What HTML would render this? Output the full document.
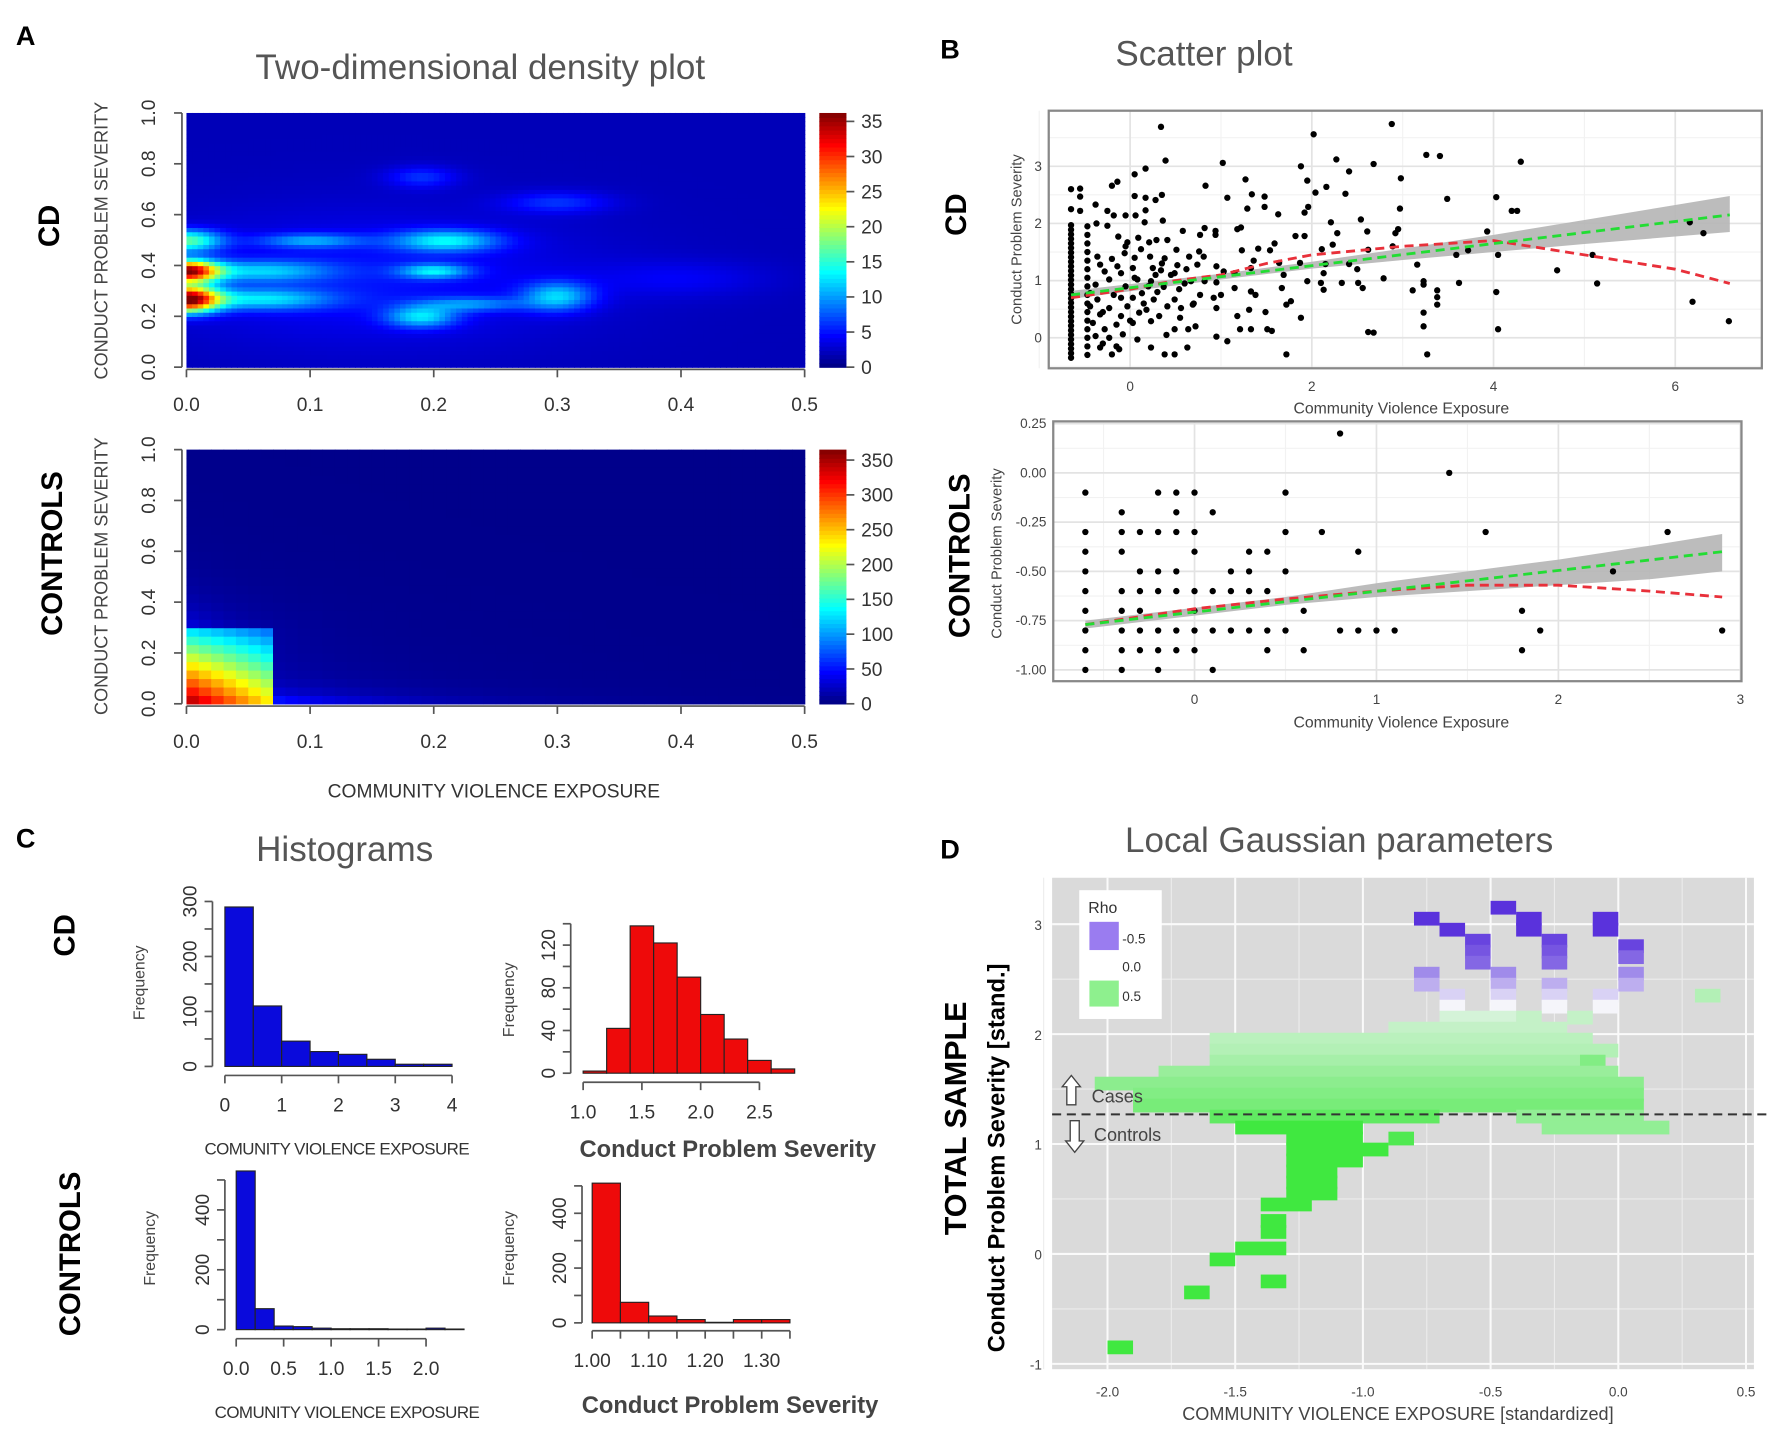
<!DOCTYPE html>
<html><head><meta charset="utf-8"><title>Figure</title>
<style>
html,body{margin:0;padding:0;background:#fff;}
svg{display:block;font-family:"Liberation Sans",sans-serif;}
.lbl{font-weight:bold;fill:#000;}
.ttl{fill:#555;font-size:31px;}
.tk{fill:#333;font-size:17px;}
.tks{fill:#444;font-size:12px;}
</style></head>
<body>
<svg id="fig" xmlns="http://www.w3.org/2000/svg" width="1772" height="1446" viewBox="0 0 1568 1280" preserveAspectRatio="none">
<rect x="0" y="0" width="1568" height="1280" fill="#fff"/>
<!-- Panel A -->
<text class="lbl" x="14" y="40" font-size="24">A</text>
<text class="ttl" x="425" y="70" text-anchor="middle">Two-dimensional  density  plot</text>
<text class="lbl" x="0" y="0" font-size="26" transform="translate(52,200) rotate(-90)" text-anchor="middle" fill="#222">CD</text>
<text class="lbl" x="0" y="0" font-size="26" transform="translate(55,490) rotate(-90)" text-anchor="middle" fill="#222">CONTROLS</text>
<text x="0" y="0" font-size="16" fill="#444" transform="translate(95,213) rotate(-90)" text-anchor="middle">CONDUCT PROBLEM SEVERITY</text>
<text x="0" y="0" font-size="16" fill="#444" transform="translate(95,510) rotate(-90)" text-anchor="middle">CONDUCT PROBLEM SEVERITY</text>
<text x="437" y="706" font-size="17" fill="#333" text-anchor="middle">COMMUNITY VIOLENCE EXPOSURE</text>
<g id="panelA"></g>
<!-- Panel B -->
<text class="lbl" x="832" y="52" font-size="24">B</text>
<text class="ttl" x="987" y="58">Scatter plot</text>
<text class="lbl" x="0" y="0" font-size="26" transform="translate(855,190) rotate(-90)" text-anchor="middle" fill="#222">CD</text>
<text class="lbl" x="0" y="0" font-size="26" transform="translate(858,492) rotate(-90)" text-anchor="middle" fill="#222">CONTROLS</text>
<text x="0" y="0" font-size="13" fill="#444" transform="translate(904,212) rotate(-90)" text-anchor="middle">Conduct Problem Severity</text>
<text x="1240" y="366" font-size="14" fill="#444" text-anchor="middle">Community Violence Exposure</text>
<text x="0" y="0" font-size="13" fill="#444" transform="translate(886,490) rotate(-90)" text-anchor="middle">Conduct Problem Severity</text>
<text x="1240" y="644" font-size="14" fill="#444" text-anchor="middle">Community Violence Exposure</text>
<g id="panelB"></g>
<!-- Panel C -->
<text class="lbl" x="14" y="750" font-size="24">C</text>
<text class="ttl" x="305" y="762" text-anchor="middle">Histograms</text>
<text class="lbl" x="0" y="0" font-size="26" transform="translate(66,828) rotate(-90)" text-anchor="middle" fill="#222">CD</text>
<text class="lbl" x="0" y="0" font-size="26" transform="translate(71,1110) rotate(-90)" text-anchor="middle" fill="#222">CONTROLS</text>
<text x="298" y="1022" font-size="15" fill="#333" text-anchor="middle" letter-spacing="-0.5">COMUNITY VIOLENCE EXPOSURE</text>
<text x="644" y="1024" font-size="21" font-weight="bold" fill="#444" text-anchor="middle">Conduct Problem Severity</text>
<text x="307" y="1255" font-size="15" fill="#333" text-anchor="middle" letter-spacing="-0.5">COMUNITY VIOLENCE EXPOSURE</text>
<text x="646" y="1251" font-size="21" font-weight="bold" fill="#444" text-anchor="middle">Conduct Problem Severity</text>
<g id="panelC"></g>
<!-- Panel D -->
<text class="lbl" x="832" y="760" font-size="24">D</text>
<text class="ttl" x="1185" y="754" text-anchor="middle">Local Gaussian parameters</text>
<text class="lbl" x="0" y="0" font-size="27" transform="translate(855,990) rotate(-90)" text-anchor="middle" fill="#333">TOTAL  SAMPLE</text>
<text class="lbl" x="0" y="0" font-size="21" transform="translate(889,1025) rotate(-90)" text-anchor="middle" fill="#444">Conduct  Problem  Severity [stand.]</text>
<text x="1237" y="1257" font-size="16" fill="#444" text-anchor="middle">COMMUNITY VIOLENCE EXPOSURE [standardized]</text>
<g id="panelD"></g>

<script>
// ================= DATA =================
const cdBlobX = [0.0, 0.0, 0.0, 0.06, 0.06, 0.10, 0.19, 0.20, 0.21, 0.23, 0.30, 0.19, 0.30, 0.15, 0.40];
const cdBlobY = [0.27, 0.38, 0.50, 0.27, 0.38, 0.50, 0.20, 0.38, 0.50, 0.25, 0.28, 0.75, 0.65, 0.35, 0.35];
const cdBlobSX = [0.018, 0.018, 0.02, 0.04, 0.04, 0.03, 0.02, 0.02, 0.03, 0.03, 0.02, 0.02, 0.03, 0.12, 0.05];
const cdBlobSY = [0.035, 0.03, 0.03, 0.03, 0.03, 0.02, 0.03, 0.02, 0.03, 0.02, 0.04, 0.03, 0.03, 0.18, 0.05];
const cdBlobAmp = [33, 31, 14, 9, 8, 7, 9, 9, 10, 6, 9, 4, 4, 3, 2];
const cdBase = [2];
const cdTicks = [0, 5, 10, 15, 20, 25, 30, 35];
const cdMax = [36.2];
const ctrlPeak = [360];
const ctrlTicks = [0, 50, 100, 150, 200, 250, 300, 350];
const ctrlMax = [365];
const aXTicks = [0.0, 0.1, 0.2, 0.3, 0.4, 0.5];
const aYTicks = [0.0, 0.2, 0.4, 0.6, 0.8, 1.0];

const cdScatX = [0.34,2.88,2.02,0.39,1.02,2.27,2.68,3.26,3.41,4.3,1.88,2.41,0.17,0.05,2.98,1.27,1.95,-0.14,-0.2,0.83,2.16,2.04,2.37,1.34,1.48,1.07,0.05,0.17,0.35,3.49,4.03,1.48,1.29,1.96,-0.38,0.17,0.28,2.97,4.2,4.26,-0.55,-0.25,1.92,1.63,-0.18,-0.05,0.06,0.16,0.36,1.22,1.18,2.54,2.21,2.95,3.93,-0.25,-0.37,0.58,0.82,0.94,0.77,0.94,1.82,1.92,2.28,2.61,2.92,0.09,-0.13,0.29,0.41,-0.03,0.21,1.59,1.41,1.54,1.23,2.11,2.23,2.62,2.89,4.05,3.72,3.59,5.09,0.51,0.76,-0.06,0.05,0.22,0.38,0.65,0.81,-0.2,-0.36,1.36,1.64,1.87,2.15,2.41,3.16,-0.33,-0.14,0.03,0.25,0.52,0.74,0.95,1.33,2.5,4.7,-0.28,-0.1,0.34,0.49,1.03,1.15,1.69,2.79,2.13,-0.23,0.08,0.23,0.67,0.82,0.95,1.95,2.1,2.33,2.51,3.23,3.62,5.14,-0.38,-0.05,0.37,0.54,1.15,1.33,1.67,2.13,2.56,3.11,3.23,3.38,-0.44,-0.18,0.13,0.77,1.0,1.38,4.03,-0.36,0.03,0.26,0.49,0.92,3.38,1.77,6.19,-0.44,-0.23,-0.03,0.18,0.41,0.56,0.69,0.95,1.72,3.38,-0.33,-0.1,0.1,0.32,1.31,1.18,1.49,1.88,3.23,6.59,-0.41,-0.15,0.03,0.23,0.49,0.64,0.72,1.21,1.33,1.51,1.56,2.62,2.68,3.23,4.05,-0.38,-0.23,-0.08,0.08,0.95,1.07,0.23,0.38,0.49,0.63,-0.2,-0.33,-0.15,1.72,3.27,6.16,6.31,-0.55,-0.55,
-0.65,-0.65,-0.65,-0.65,-0.65,-0.65,-0.65,-0.65,-0.65,-0.65,-0.65,-0.65,-0.65,-0.65,-0.65,-0.65,-0.65,-0.65,-0.65,-0.65,-0.65,-0.65,-0.65,-0.65,-0.65,-0.65,-0.65,-0.65,-0.65,-0.65,-0.65,-0.65,
-0.47,-0.47,-0.47,-0.47,-0.47,-0.47,-0.47,-0.47,-0.47,-0.47,-0.47,-0.47,-0.47,-0.47,-0.47,-0.47,
-0.3,-0.12,0.0,0.15,0.3,0.45,-0.3,-0.1,0.05,0.2,0.35,-0.28,-0.05,0.12,0.28,0.6,0.7,0.55,0.62,0.4];
const cdScatY = [3.69,3.74,3.56,3.1,3.06,3.12,3.04,3.2,3.18,3.08,3.0,2.91,2.96,2.86,2.79,2.77,2.75,2.73,2.66,2.66,2.64,2.54,2.52,2.51,2.47,2.45,2.48,2.45,2.5,2.43,2.46,2.29,2.26,2.29,2.33,2.23,2.41,2.26,2.22,2.22,2.22,2.22,2.19,2.16,2.14,2.14,2.14,2.02,2.05,1.93,1.9,2.07,2.02,1.9,1.86,1.96,2.0,1.87,1.92,1.87,1.8,1.8,1.78,1.78,1.83,1.86,1.83,1.75,1.77,1.71,1.71,1.67,1.67,1.65,1.56,1.53,1.53,1.55,1.63,1.54,1.6,1.45,1.53,1.45,1.45,1.54,1.51,1.48,1.4,1.42,1.39,1.42,1.42,1.38,1.42,1.35,1.31,1.31,1.29,1.29,1.28,1.28,1.25,1.22,1.22,1.27,1.28,1.25,1.22,1.2,1.18,1.16,1.13,1.18,1.13,1.16,1.13,1.1,1.04,1.13,1.02,1.02,0.99,0.99,0.99,0.97,0.99,0.96,0.96,0.96,0.99,0.96,0.95,0.93,0.9,0.89,0.85,0.87,0.81,0.87,0.84,0.87,0.83,0.93,0.83,0.78,0.75,0.78,0.75,0.75,0.75,0.8,0.67,0.7,0.67,0.67,0.7,0.71,0.64,0.63,0.55,0.52,0.55,0.49,0.55,0.52,0.58,0.52,0.58,0.58,0.41,0.38,0.44,0.38,0.49,0.38,0.45,0.35,0.44,0.29,0.26,0.23,0.26,0.29,0.15,0.15,0.2,0.15,0.15,0.15,0.12,0.1,0.09,0.2,0.15,0.03,0.0,0.06,-0.03,0.02,-0.06,-0.17,-0.29,-0.29,-0.17,-0.29,-0.17,-0.15,-0.29,-0.29,2.02,1.83,2.47,2.61,
-0.35,-0.27,-0.19,-0.11,-0.03,0.05,0.13,0.21,0.29,0.37,0.45,0.53,0.61,0.69,0.77,0.85,0.93,1.01,1.09,1.17,1.25,1.33,1.41,1.49,1.57,1.65,1.73,1.81,1.89,1.97,2.25,2.6,
-0.3,-0.15,0.0,0.15,0.3,0.45,0.6,0.75,0.9,1.05,1.2,1.35,1.5,1.65,1.8,1.95,
-0.1,-0.2,0.3,0.6,0.8,1.1,0.45,0.7,1.05,0.9,1.3,0.15,1.6,1.55,1.1,0.95,0.6,0.35,1.2,0.05];
const cdFitX = [-0.65, 6.6];
const cdFitY = [0.75, 2.15];
const cdBandX = [-0.65, 1, 2, 3, 4, 5, 6.6];
const cdBandLo = [0.68, 1.02, 1.21, 1.36, 1.5, 1.64, 1.85];
const cdBandHi = [0.82, 1.12, 1.33, 1.56, 1.8, 2.06, 2.48];
const cdLoessX = [-0.65, 0, 0.5, 1, 1.5, 2, 3, 4, 5, 6, 6.6];
const cdLoessY = [0.7, 0.85, 1.0, 1.1, 1.3, 1.45, 1.6, 1.7, 1.45, 1.2, 0.95];
const cdXTicks = [0, 2, 4, 6];
const cdYTicks = [0, 1, 2, 3];
const ctScatX = [-0.6,-0.6,-0.6,-0.6,-0.6,-0.6,-0.6,-0.6,-0.6,
 -0.4,-0.4,-0.4,-0.4,-0.4,-0.4,-0.4,-0.4,
 -0.3,-0.3,-0.3,-0.3,-0.3,-0.3,
 -0.2,-0.2,-0.2,-0.2,-0.2,-0.2,-0.2,
 -0.1,-0.1,-0.1,-0.1,-0.1,-0.1,-0.1,
 0,0,0,0,0,0,0,
 0.1,0.1,0.1,0.1, 0.2,0.2,0.2, 0.3,0.3,0.3,0.3, 0.4,0.4,0.4,0.4,
 0.5,0.5,0.5,0.5, 0.6,0.6, 0.7, 0.8,0.8, 0.9,0.9, 1.0, 1.1, 1.4, 1.6, 1.8,1.8, 1.9, 2.3, 2.6, 2.9];
const ctScatY = [-0.1,-0.3,-0.4,-0.5,-0.6,-0.7,-0.8,-0.9,-1.0,
 -0.2,-0.3,-0.4,-0.6,-0.7,-0.8,-0.9,-1.0,
 -0.3,-0.5,-0.6,-0.7,-0.8,-0.9,
 -0.1,-0.3,-0.5,-0.6,-0.8,-0.9,-1.0,
 -0.1,-0.2,-0.3,-0.5,-0.6,-0.8,-0.9,
 -0.1,-0.3,-0.4,-0.6,-0.7,-0.8,-0.9,
 -0.2,-0.6,-0.8,-1.0, -0.5,-0.6,-0.8, -0.4,-0.5,-0.6,-0.8, -0.4,-0.6,-0.8,-0.9,
 -0.1,-0.3,-0.5,-0.8, -0.7,-0.9, -0.3, 0.2,-0.8, -0.4,-0.8, -0.8, -0.8, 0.0, -0.3, -0.7,-0.9, -0.8, -0.5, -0.3, -0.8];
const ctFitX = [-0.6, 2.9];
const ctFitY = [-0.77, -0.40];
const ctBandX = [-0.6, 0.5, 1, 1.5, 2, 2.5, 2.9];
const ctBandLo = [-0.79, -0.67, -0.63, -0.6, -0.57, -0.54, -0.5];
const ctBandHi = [-0.75, -0.63, -0.56, -0.5, -0.44, -0.37, -0.31];
const ctLoessX = [-0.6, 0, 0.5, 1, 1.5, 2, 2.5, 2.9];
const ctLoessY = [-0.77, -0.69, -0.64, -0.6, -0.57, -0.57, -0.6, -0.63];
const ctXTicks = [0, 1, 2, 3];
const ctYTicks = [0.25, 0.0, -0.25, -0.5, -0.75, -1.0];
const ctYTickLabels = ["0.25", "0.00", "-0.25", "-0.50", "-0.75", "-1.00"];

const h1Start = [0, 0.5, 1, 1.5, 2, 2.5, 3, 3.5];
const h1Count = [290, 110, 46, 27, 22, 13, 4, 4];
const h2Start = [1.0, 1.2, 1.4, 1.6, 1.8, 2.0, 2.2, 2.4, 2.6];
const h2Count = [2, 42, 138, 122, 90, 55, 32, 12, 4];
const h3Start = [0, 0.2, 0.4, 0.6, 0.8, 1.0, 1.2, 1.4, 1.6, 1.8, 2.0, 2.2];
const h3Count = [530, 70, 12, 10, 5, 3, 3, 3, 2, 2, 5, 2];
const h4Start = [1.0, 1.05, 1.1, 1.15, 1.2, 1.25, 1.3];
const h4Count = [510, 75, 25, 12, 2, 12, 12];

const tX0 = [-0.8,-0.7,-0.6,-0.6,-0.6,-0.5,-0.4,-0.4,-0.3,-0.3,-0.3,-0.1,-0.1,0,0,-0.8,-0.8,-0.5,-0.5,0,0,-0.3,-0.7,-0.5,-0.3,-0.1,-0.7,-0.5,-0.3,-0.1,-0.7,-0.4,-0.2,0.3,-0.9,-1.6,-1.6,-1.6,-0.15,-1.8,-2.05,-1.9,-1.9,-1.6,-0.4,-1.5,-0.3,-1.3,-0.9,-1.3,-1.3,-1.3,-1.3,-1.3,-1.4,-1.4,-1.4,-1.5,-1.6,-1.4,-1.7,-2.0];
const tX1 = [-0.7,-0.6,-0.5,-0.5,-0.5,-0.4,-0.3,-0.3,-0.2,-0.2,-0.2,0,0,0.1,0.1,-0.7,-0.7,-0.4,-0.4,0.1,0.1,-0.2,-0.6,-0.4,-0.2,0,-0.6,-0.4,-0.2,0,-0.4,-0.3,-0.1,0.4,-0.2,-0.1,0,-0.1,-0.05,0,0.1,0.1,0.1,-0.7,0.1,-1.0,0.2,-1.0,-0.8,-0.9,-1.0,-1.1,-1.1,-1.1,-1.2,-1.3,-1.3,-1.3,-1.5,-1.3,-1.6,-1.9];
const tY = [3.05,2.95,2.85,2.75,2.65,3.15,3.05,2.95,2.85,2.75,2.65,3.05,2.95,2.8,2.7,2.55,2.45,2.55,2.45,2.55,2.45,2.45,2.35,2.35,2.35,2.35,2.25,2.25,2.25,2.25,2.15,2.15,2.15,2.35,2.05,1.95,1.85,1.75,1.75,1.65,1.55,1.45,1.35,1.25,1.25,1.15,1.15,1.05,1.05,0.95,0.85,0.75,0.65,0.55,0.45,0.3,0.2,0.05,-0.05,-0.25,-0.35,-0.85];
const tRho = [-0.6,-0.55,-0.5,-0.45,-0.4,-0.55,-0.6,-0.55,-0.5,-0.45,-0.4,-0.6,-0.55,-0.5,-0.4,-0.3,-0.2,-0.3,-0.2,-0.3,-0.2,-0.2,-0.1,-0.1,-0.1,-0.1,0,0,0,0,0.1,0.15,0.15,0.2,0.15,0.18,0.2,0.24,0.35,0.28,0.32,0.35,0.38,0.45,0.3,0.55,0.3,0.55,0.5,0.55,0.55,0.55,0.55,0.55,0.55,0.55,0.55,0.55,0.55,0.55,0.55,0.55];
const dXTicks = [-2.0, -1.5, -1.0, -0.5, 0.0, 0.5];
const dYTicks = [-1, 0, 1, 2, 3];
const dCutoff = [1.27];

// ================= HELPERS =================
const NS = "http://www.w3.org/2000/svg";
function mk(tag, attrs, parent) {
  const e = document.createElementNS(NS, tag);
  for (const k in attrs) e.setAttribute(k, attrs[k]);
  parent.appendChild(e);
  return e;
}
function jet(t) {
  t = Math.max(0, Math.min(1, t));
  const c = v => Math.round(255 * Math.max(0, Math.min(1, v)));
  return `rgb(${c(1.5 - Math.abs(4 * t - 3))},${c(1.5 - Math.abs(4 * t - 2))},${c(1.5 - Math.abs(4 * t - 1))})`;
}

// ================= PANEL A =================
const gA = document.getElementById('panelA');
function densityPanel(top, bottom, valueFn, vmax, ticks, nx, ny, name) {
  const L = 165, R = 712;
  const xs = v => L + v / 0.5 * (R - L);
  const ys = v => bottom - v * (bottom - top);
  const g = mk('g', {}, gA);
  
  
  const cw = (R - L) / nx, ch = (bottom - top) / ny;
  for (let i = 0; i < nx; i++) {
    for (let j = 0; j < ny; j++) {
      const xv = (i + 0.5) / nx * 0.5, yv = (j + 0.5) / ny;
      const r = mk('rect', { x: xs(i / nx * 0.5), y: ys((j + 1) / ny), width: cw + 0.6, height: ch + 0.6, fill: jet(valueFn(xv, yv) / vmax) }, g);
      
      
    }
  }
  const ax = mk('g', { stroke: '#555', 'stroke-width': 1.5 }, gA);
  
  
  mk('line', { x1: L, x2: R, y1: bottom + 2, y2: bottom + 2 }, ax);
  mk('line', { x1: L - 4, x2: L - 4, y1: top, y2: bottom }, ax);
  aXTicks.forEach(v => {
    mk('line', { x1: xs(v), x2: xs(v), y1: bottom + 2, y2: bottom + 9 }, ax);
    const t = mk('text', { x: xs(v), y: bottom + 39, 'text-anchor': 'middle', class: 'tk', stroke: 'none' }, gA);
    t.textContent = v.toFixed(1);
    
    
  });
  aYTicks.forEach(v => {
    mk('line', { x1: L - 4, x2: L - 11, y1: ys(v), y2: ys(v) }, ax);
    const t = mk('text', { x: 0, y: 0, transform: `translate(${137},${ys(v)}) rotate(-90)`, 'text-anchor': 'middle', class: 'tk' }, gA);
    t.textContent = v.toFixed(1);
    
    
  });
  const cb = mk('g', {}, gA);
  
  
  const steps = 60;
  for (let k = 0; k < steps; k++) {
    const y0 = bottom - (k + 1) / steps * (bottom - top);
    mk('rect', { x: 725, y: y0, width: 24, height: (bottom - top) / steps + 0.6, fill: jet((k + 0.5) / steps) }, cb);
  }
  ticks.forEach(v => {
    const y = bottom - v / vmax * (bottom - top);
    mk('line', { x1: 749, x2: 756, y1: y, y2: y, stroke: '#555', 'stroke-width': 1.5 }, cb);
    const t = mk('text', { x: 762, y: y + 6, class: 'tk' }, cb);
    t.textContent = v;
    
    
  });
}
function cdValue(x, y) {
  let v = cdBase[0];
  for (let k = 0; k < cdBlobX.length; k++) {
    const dx = (x - cdBlobX[k]) / cdBlobSX[k], dy = (y - cdBlobY[k]) / cdBlobSY[k];
    v += cdBlobAmp[k] * Math.exp(-0.5 * (dx * dx + dy * dy));
  }
  return v;
}
function ctrlValue(x, y) {
  if (x < 0.07 && y < 0.3) {
    return ctrlPeak[0] * (1 - x / 0.2) * (1 - y / 0.45);
  }
  return 4 + 55 * Math.exp(-Math.max(0, x - 0.07) / 0.1) * Math.exp(-y / 0.04)
           + 30 * Math.exp(-x / 0.04) * Math.exp(-Math.max(0, y - 0.3) / 0.1)
           + 10 * Math.exp(-x / 0.2) * Math.exp(-y / 0.3);
}
densityPanel(100, 325, cdValue, cdMax[0], cdTicks, 110, 60, 'cd');
densityPanel(398, 623, ctrlValue, ctrlMax[0], ctrlTicks, 50, 30, 'controls');

// ================= PANEL B =================
const gB = document.getElementById('panelB');
function scatterPanel(box, xs, ys, xTicks, xMinor, yTicks, yLabels, yMinor, px, py, fitX, fitY, bX, bLo, bHi, lX, lY, name, tickX, xlabY) {
  const g = mk('g', {}, gB);
  
  
  mk('rect', { x: box[0], y: box[1], width: box[2] - box[0], height: box[3] - box[1], fill: '#fff' }, g);
  xMinor.forEach(v => mk('line', { x1: xs(v), x2: xs(v), y1: box[1], y2: box[3], stroke: '#f2f2f2', 'stroke-width': 1 }, g));
  yMinor.forEach(v => mk('line', { x1: box[0], x2: box[2], y1: ys(v), y2: ys(v), stroke: '#f2f2f2', 'stroke-width': 1 }, g));
  xTicks.forEach(v => mk('line', { x1: xs(v), x2: xs(v), y1: box[1], y2: box[3], stroke: '#e3e3e3', 'stroke-width': 1.5 }, g));
  yTicks.forEach(v => mk('line', { x1: box[0], x2: box[2], y1: ys(v), y2: ys(v), stroke: '#e3e3e3', 'stroke-width': 1.5 }, g));
  let pts = [];
  bX.forEach((x, i) => pts.push(xs(x) + ',' + ys(bHi[i])));
  for (let i = bX.length - 1; i >= 0; i--) pts.push(xs(bX[i]) + ',' + ys(bLo[i]));
  const band = mk('polygon', { points: pts.join(' '), fill: '#b5b5b5', opacity: 0.9 }, g);
  
  
  for (let i = 0; i < px.length; i++) {
    const c = mk('circle', { cx: xs(px[i]), cy: ys(py[i]), r: 2.8, fill: '#000' }, g);
    
    
  }
  const lo = mk('polyline', { points: lX.map((x, i) => xs(x) + ',' + ys(lY[i])).join(' '), fill: 'none', stroke: '#e8303a', 'stroke-width': 2.5, 'stroke-dasharray': '8,5' }, g);
  
  
  const fit = mk('polyline', { points: fitX.map((x, i) => xs(x) + ',' + ys(fitY[i])).join(' '), fill: 'none', stroke: '#22dd33', 'stroke-width': 2.5, 'stroke-dasharray': '8,5' }, g);
  
  
  const bd = mk('rect', { x: box[0], y: box[1], width: box[2] - box[0], height: box[3] - box[1], fill: 'none', stroke: '#888', 'stroke-width': 2 }, g);
  
  
  xTicks.forEach(v => {
    const t = mk('text', { x: xs(v), y: xlabY, 'text-anchor': 'middle', class: 'tks' }, g);
    t.textContent = v;
    
    
  });
  yTicks.forEach((v, i) => {
    const t = mk('text', { x: tickX, y: ys(v) + 4, 'text-anchor': 'end', class: 'tks' }, g);
    t.textContent = yLabels[i];
    
    
  });
}
scatterPanel([928, 98, 1559, 326], v => 1000 + v * 80.4, v => 299 - v * 50.6,
  cdXTicks, [-1, 1, 3, 5], cdYTicks, cdYTicks.map(String), [-0.5, 0.5, 1.5, 2.5, 3.5],
  cdScatX, cdScatY, cdFitX, cdFitY, cdBandX, cdBandLo, cdBandHi, cdLoessX, cdLoessY, 'cd', 922, 346);
scatterPanel([932, 373, 1541, 603], v => 1057 + v * 161, v => 375 + (0.25 - v) * 174.4,
  ctXTicks, [-0.5, 0.5, 1.5, 2.5], ctYTicks, ctYTickLabels, [0.125, -0.125, -0.375, -0.625, -0.875],
  ctScatX, ctScatY, ctFitX, ctFitY, ctBandX, ctBandLo, ctBandHi, ctLoessX, ctLoessY, 'controls', 926, 623);

// ================= PANEL C =================
const gC = document.getElementById('panelC');
function histPanel(starts, counts, width, xs, ys, color, xTicks, xLabels, yTicks, yLabels, axisX, axisY, freqX, freqY, name) {
  const g = mk('g', {}, gC);
  
  
  starts.forEach((s, i) => {
    const b = mk('rect', { x: xs(s), y: ys(counts[i]), width: xs(s + width) - xs(s), height: ys(0) - ys(counts[i]), fill: color, stroke: '#222', 'stroke-width': 1 }, g);
    
    
  });
  const ax = mk('g', { stroke: '#555', 'stroke-width': 1.5 }, g);
  
  
  mk('line', { x1: xs(xTicks[0]), x2: xs(xTicks[xTicks.length - 1]), y1: axisY, y2: axisY }, ax);
  xTicks.forEach(v => mk('line', { x1: xs(v), x2: xs(v), y1: axisY, y2: axisY + 7 }, ax));
  mk('line', { x1: axisX, x2: axisX, y1: ys(0), y2: ys(yTicks[yTicks.length - 1]) }, ax);
  yTicks.forEach(v => mk('line', { x1: axisX, x2: axisX - 7, y1: ys(v), y2: ys(v) }, ax));
  xLabels.forEach(p => {
    const t = mk('text', { x: xs(p[0]), y: axisY + 32, 'text-anchor': 'middle', class: 'tk', 'font-size': 16 }, g);
    t.textContent = p[1];
    
    
  });
  yLabels.forEach(p => {
    const t = mk('text', { x: 0, y: 0, transform: `translate(${axisX - 14},${ys(p[0])}) rotate(-90)`, 'text-anchor': 'middle', class: 'tk', 'font-size': 15 }, g);
    t.textContent = p[1];
    
    
  });
  const f = mk('text', { x: 0, y: 0, transform: `translate(${freqX},${freqY}) rotate(-90)`, 'text-anchor': 'middle', fill: '#444', 'font-size': 14 }, g);
  f.textContent = 'Frequency';
  
  
}
histPanel(h1Start, h1Count, 0.5, v => 199 + v * 50.25, c => 944 - c * 0.4867, '#0a0adc',
  [0, 1, 2, 3, 4], [[0, '0'], [1, '1'], [2, '2'], [3, '3'], [4, '4']],
  [0, 50, 100, 150, 200, 250, 300], [[0, '0'], [100, '100'], [200, '200'], [300, '300']], 188, 952, 128, 870, 'cd-exposure');
histPanel(h2Start, h2Count, 0.2, v => 516 + (v - 1) * 104, c => 950 - c * 0.945, '#ee0a0a',
  [1.0, 1.5, 2.0, 2.5], [[1.0, '1.0'], [1.5, '1.5'], [2.0, '2.0'], [2.5, '2.5']],
  [0, 20, 40, 60, 80, 100, 120, 140], [[0, '0'], [40, '40'], [80, '80'], [120, '120']], 505, 958, 455, 885, 'cd-severity');
histPanel(h3Start, h3Count, 0.2, v => 209 + v * 84, c => 1177 - c * 0.265, '#0a0adc',
  [0, 0.5, 1.0, 1.5, 2.0], [[0, '0.0'], [0.5, '0.5'], [1.0, '1.0'], [1.5, '1.5'], [2.0, '2.0']],
  [0, 100, 200, 300, 400, 500], [[0, '0'], [200, '200'], [400, '400']], 199, 1185, 137, 1105, 'controls-exposure');
histPanel(h4Start, h4Count, 0.05, v => 524 + (v - 1) * 500, c => 1171 - c * 0.2425, '#ee0a0a',
  [1.0, 1.05, 1.1, 1.15, 1.2, 1.25, 1.3, 1.35], [[1.0, '1.00'], [1.1, '1.10'], [1.2, '1.20'], [1.3, '1.30']],
  [0, 100, 200, 300, 400, 500], [[0, '0'], [200, '200'], [400, '400']], 515, 1178, 455, 1105, 'controls-severity');

// ================= PANEL D =================
const gD = document.getElementById('panelD');
const dxs = v => 980 + (v + 2) * 226;
const dys = v => 1110 - v * 97.3;
const dBox = [931, 777, 1552, 1212];
const dbg = mk('rect', { x: dBox[0], y: dBox[1], width: dBox[2] - dBox[0], height: dBox[3] - dBox[1], fill: '#dadada' }, gD);


[-2.25, -1.75, -1.25, -0.75, -0.25, 0.25].forEach(v => mk('line', { x1: dxs(v), x2: dxs(v), y1: dBox[1], y2: dBox[3], stroke: '#ececec', 'stroke-width': 1 }, gD));
[-0.5, 0.5, 1.5, 2.5].forEach(v => mk('line', { x1: dBox[0], x2: dBox[2], y1: dys(v), y2: dys(v), stroke: '#ececec', 'stroke-width': 1 }, gD));
dXTicks.forEach(v => {
  mk('line', { x1: dxs(v), x2: dxs(v), y1: dBox[1], y2: dBox[3], stroke: '#fafafa', 'stroke-width': 1.8 }, gD);
  const t = mk('text', { x: dxs(v), y: 1236, 'text-anchor': 'middle', class: 'tks', 'font-size': 13 }, gD);
  t.textContent = v.toFixed(1);
  
  
});
dYTicks.forEach(v => {
  mk('line', { x1: dBox[0], x2: dBox[2], y1: dys(v), y2: dys(v), stroke: '#fafafa', 'stroke-width': 1.8 }, gD);
  const t = mk('text', { x: 922, y: dys(v) + 5, 'text-anchor': 'end', class: 'tks', 'font-size': 13 }, gD);
  t.textContent = v;
  
  
});
function rhoColor(r) {
  const w = [245, 245, 250];
  const end = r >= 0 ? [64, 232, 64] : [90, 50, 220];
  const t = Math.min(1, Math.abs(r) / 0.55);
  return `rgb(${Math.round(w[0] + (end[0] - w[0]) * t)},${Math.round(w[1] + (end[1] - w[1]) * t)},${Math.round(w[2] + (end[2] - w[2]) * t)})`;
}
for (let i = 0; i < tX0.length; i++) {
  const r = mk('rect', { x: dxs(tX0[i]), y: dys(tY[i] + 0.0625), width: dxs(tX1[i]) - dxs(tX0[i]), height: dys(0) - dys(0.125), fill: rhoColor(tRho[i]) }, gD);
  
  
}
const cut = mk('line', { x1: dBox[0], x2: 1568, y1: dys(dCutoff[0]), y2: dys(dCutoff[0]), stroke: '#333', 'stroke-width': 1.8, 'stroke-dasharray': '8,5' }, gD);


</script>
<g>
  <rect x="955" y="788" width="73" height="114" fill="#fff"/>
  <text x="963" y="808" font-size="14" fill="#333">Rho</text>
  <rect x="964" y="816" width="26" height="25" fill="#9a7cf0"/>
  <text x="993" y="835" font-size="12" fill="#333">-0.5</text>
  <text x="993" y="860" font-size="12" fill="#333">0.0</text>
  <rect x="964" y="868" width="26" height="23" fill="#8ef08e"/>
  <text x="993" y="886" font-size="12" fill="#333">0.5</text>
</g>
<g>
  <path d="M944 978 L944 962 L940 962 L948 952 L956 962 L952 962 L952 978 Z" fill="#fff" stroke="#444" stroke-width="1.2"/>
  <text x="966" y="976" font-size="16" fill="#444">Cases</text>
  <path d="M947 992 L947 1010 L943 1010 L951 1020 L959 1010 L955 1010 L955 992 Z" fill="#fff" stroke="#444" stroke-width="1.2"/>
  <text x="968" y="1010" font-size="16" fill="#444">Controls</text>
</g>
</svg>
</body></html>
